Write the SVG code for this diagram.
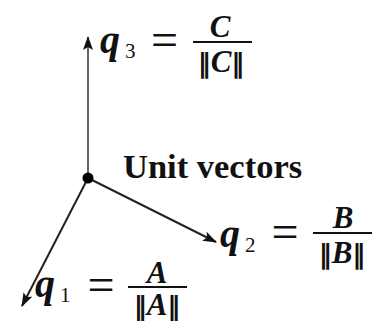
<svg xmlns="http://www.w3.org/2000/svg" width="376" height="321" viewBox="0 0 376 321">
<style>
.q{font-family:"Liberation Serif","DejaVu Serif",serif;font-weight:bold;font-style:italic;font-size:40px;fill:#111}
.sub{font-family:"Liberation Serif","DejaVu Serif",serif;font-size:21px;fill:#111}
.eq{font-family:"Liberation Serif","DejaVu Serif",serif;font-size:48px;fill:#111;text-anchor:middle}
.num{font-family:"Liberation Serif","DejaVu Serif",serif;font-weight:bold;font-style:italic;font-size:31px;fill:#111;text-anchor:middle}
.nb{font-family:"DejaVu Sans","Liberation Sans",sans-serif;font-weight:bold;font-style:normal;font-size:26px}
.bar{stroke:#111;stroke-width:2}
.vec{stroke:#222;stroke-width:2;fill:none}
.title{font-family:"Liberation Serif","DejaVu Serif",serif;font-weight:bold;font-size:34.5px;fill:#111}
</style>
<defs>
<marker id="ah" viewBox="0 0 14 10" refX="13" refY="5" markerWidth="14" markerHeight="10" markerUnits="userSpaceOnUse" orient="auto">
<path d="M0,0 L14,5 L0,10 L3,5 Z" fill="#111"/>
</marker>
</defs>
<g id="connectors">
<line class="vec" x1="88" y1="178" x2="88" y2="37" style="stroke:#666" marker-end="url(#ah)"/>
<line class="vec" x1="88" y1="178" x2="216" y2="242" marker-end="url(#ah)"/>
<line class="vec" x1="88" y1="178" x2="22" y2="306" marker-end="url(#ah)"/>
</g>
<g id="origin"><circle cx="88" cy="178" r="5.5" fill="#000"/></g>
<g id="label">
<text class="title" x="123" y="178">Unit vectors</text>
</g>
<g id="q3">
<text class="q" x="100" y="53">q</text>
<text class="sub" x="125" y="58">3</text>
<text class="eq" x="164.5" y="56">=</text>
<line class="bar" x1="193" y1="42" x2="252" y2="42"/>
<text class="num" x="220" y="37">C</text>
<text class="num" x="221" y="72"><tspan class="nb">‖</tspan>C<tspan class="nb">‖</tspan></text>
</g>
<g id="q2">
<text class="q" x="220" y="247">q</text>
<text class="sub" x="245" y="252">2</text>
<text class="eq" x="285" y="248">=</text>
<line class="bar" x1="313" y1="233" x2="372" y2="233"/>
<text class="num" x="343" y="228">B</text>
<text class="num" x="342" y="263"><tspan class="nb">‖</tspan>B<tspan class="nb">‖</tspan></text>
</g>
<g id="q1">
<text class="q" x="35" y="297">q</text>
<text class="sub" x="60" y="302">1</text>
<text class="eq" x="101" y="301">=</text>
<line class="bar" x1="128" y1="287" x2="187" y2="287"/>
<text class="num" x="157" y="283">A</text>
<text class="num" x="157" y="315"><tspan class="nb">‖</tspan>A<tspan class="nb">‖</tspan></text>
</g>
</svg>
